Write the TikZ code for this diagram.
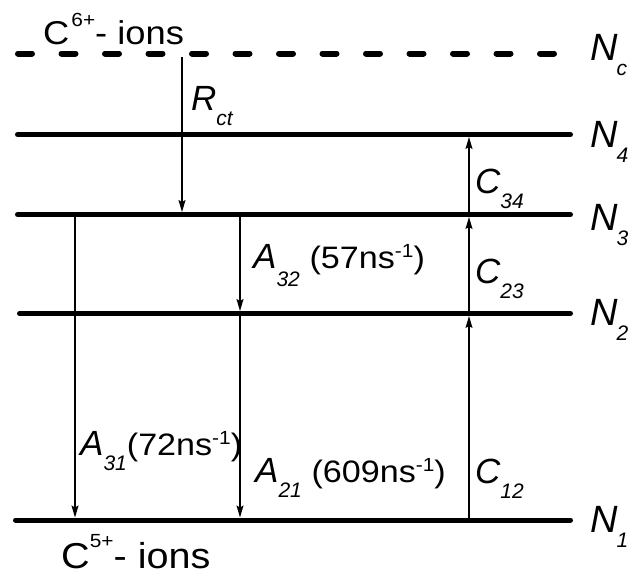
\documentclass[tikz,border=0pt]{standalone}
\usepackage{fontspec}
\setmainfont{Liberation Sans}
\newfontfamily\upfont[FakeStretch=1.1]{Liberation Sans}
\usetikzlibrary{arrows.meta}
\newcommand\lo[2][15pt]{\raisebox{-#1}{\fontsize{21}{21}\selectfont\itshape #2}}
\newcommand\hi[2][11pt]{\raisebox{#1}{\fontsize{19}{19}\selectfont\upfont\upshape #2}}
\newcommand\rate[1]{{\upfont\upshape\fontsize{31}{31}\selectfont(#1ns\hi{-1})}}
\tikzset{
  lvl/.style={line width=5pt,line cap=round},
  lvlc/.style={lvl,line width=6pt,dash pattern=on 14pt off 29.5pt},
  ar/.style={-{Stealth[length=12pt,width=7pt,inset=2pt]},line width=1.3pt,shorten >=2.5pt,shorten <=2.5pt},
  sym/.style={inner sep=0pt,anchor=base west,font=\fontsize{35}{35}\selectfont\itshape},
  lvlname/.style={sym,font=\fontsize{38}{38}\selectfont\itshape},
  ion/.style={inner sep=0pt,anchor=base west},
}
\begin{document}
\begin{tikzpicture}[x=1pt,y=-1pt]
  \useasboundingbox (0,0) rectangle (633,576);
  % ── levels ──
  \coordinate (lcw) at (18,53.5); \coordinate (lce) at (554,53.5);
  \foreach \n/\y/\xa in {4/134.5/17.5,3/214.5/17.5,2/313.5/19.5,1/520/15.5} {
    \coordinate (l\n w) at (\xa,\y); \coordinate (l\n e) at (570.5,\y);
  }
  % x of the transitions
  \coordinate (xr) at (182,0);
  \coordinate (xs) at (75,0);
  \coordinate (xa) at (240,0);
  \coordinate (xc) at (469,0);

  % ── transitions ──
  \draw[ar,shorten <=3.5pt] (xr |- lcw) -- (xr |- l3w);
  \draw[ar] (xs |- l3w) -- (xs |- l1w);
  \draw[ar] (xa |- l3w) -- (xa |- l2w);
  \draw[ar] (xa |- l2w) -- (xa |- l1w);
  \draw[ar] (xc |- l3w) -- (xc |- l4w);
  \draw[ar] (xc |- l2w) -- (xc |- l3w);
  \draw[ar] (xc |- l1w) -- (xc |- l2w);

  \draw[lvlc] (lcw) -- (lce);
  \foreach \n in {4,3,2,1} \draw[lvl] (l\n w) -- (l\n e);

  % ── labels ──
  \node[ion] (cup) at (43,44) {\upfont\fontsize{33}{33}\selectfont C\kern2pt\hi[18pt]{6+}- ions};
  \node[ion] (cdn) at (61,568) {\upfont\fontsize{36}{36}\selectfont C\hi[21pt]{5+}- ions};
  \node[sym] (rct) at (191,110) {R\lo{ct}};
  \node[lvlname] (nc) at (590,60) {N\kern-1pt\lo{c}};
  \node[lvlname] (n4) at (590,147) {N\kern-1pt\lo{4}};
  \node[lvlname] (n3) at (590,230) {N\kern-1pt\lo{3}};
  \node[lvlname] (n2) at (590,325) {N\kern-1pt\lo{2}};
  \node[lvlname] (n1) at (590,532) {N\kern-1pt\lo{1}};
  \node[sym] (c34) at (475,193) {C\lo{34}};
  \node[sym] (c23) at (475,283) {C\lo{23}};
  \node[sym] (c12) at (475,483) {C\lo{12}};
  \node[sym] (a32) at (253,268) {A\lo[18pt]{32}\ \rate{57}};
  \node[sym] (a31) at (80,455) {A\lo{31}\rate{72}};
  \node[sym] (a21) at (255,482) {A\lo{21}\ \rate{609}};
\end{tikzpicture}
\end{document}
